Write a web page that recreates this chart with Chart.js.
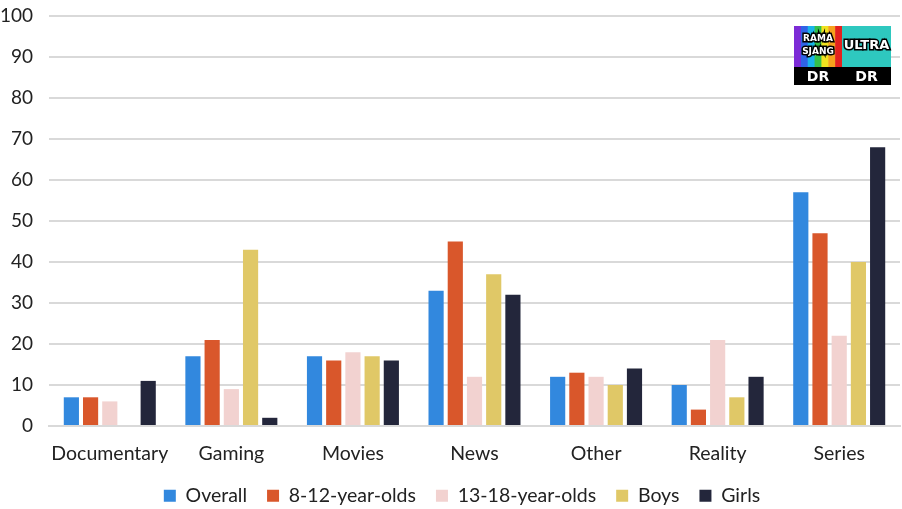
<!DOCTYPE html>
<html>
<head>
<meta charset="utf-8">
<script src="https://cdn.jsdelivr.net/npm/chart.js@4.4.1/dist/chart.umd.min.js"></script>
<style>
  html, body { margin: 0; padding: 0; background: #fff; }
  #wrap { width: 902px; height: 509px; position: relative; }
</style>
</head>
<body>
<div id="wrap"><canvas id="c"></canvas></div>
<script>
// Share of viewers by content type, per audience group
const categories = ['Documentary', 'Gaming', 'Movies', 'News', 'Other', 'Reality', 'Series'];
const overall   = [7, 17, 17, 33, 12, 10, 57];
const age8to12  = [7, 21, 16, 45, 13, 4, 47];
const age13to18 = [6, 9, 18, 12, 12, 21, 22];
const boys      = [0, 43, 17, 37, 10, 7, 40];
const girls     = [11, 2, 16, 32, 14, 12, 68];
const seriesNames = ['Overall', '8-12-year-olds', '13-18-year-olds', 'Boys', 'Girls'];
const yTicks = [0, 10, 20, 30, 40, 50, 60, 70, 80, 90, 100];

const colors = ['#3288de', '#d9572b', '#f2d2d0', '#e0c867', '#23263b'];
const values = [overall, age8to12, age13to18, boys, girls];

const FONT = 'Lato, "Open Sans", sans-serif';

// Broadcaster badges drawn in the top-right corner
const badgePlugin = {
  id: 'badges',
  afterLayout(chart) {
    // nudge the legend row so it sits under the plot a little to the right
    chart.legend.left += 12;
    chart.legend.right += 12;
  },
  afterDraw(chart) {
    const ctx = chart.ctx;
    const x0 = 794, y0 = 26, w = 97, h = 59, band = 18;
    const stripes = ['#7c2bd6', '#2f63e6', '#1ab4ea', '#35c04a', '#f1e21f', '#f6a21d', '#e3211f'];
    const half = 48;
    ctx.save();
    const sw = half / stripes.length;
    stripes.forEach((c, i) => {
      ctx.fillStyle = c;
      ctx.fillRect(x0 + i * sw, y0, sw + 0.5, h - band);
    });
    ctx.fillStyle = '#2ec8bf';
    ctx.fillRect(x0 + half, y0, w - half, h - band);
    ctx.fillStyle = '#000';
    ctx.fillRect(x0, y0 + h - band, w, band);
    ctx.fillStyle = '#fff';
    ctx.textAlign = 'center';
    ctx.textBaseline = 'middle';
    ctx.font = 'bold 14px "DejaVu Sans", sans-serif';
    ctx.fillText('DR', x0 + half / 2, y0 + h - band / 2 + 1);
    ctx.fillText('DR', x0 + half + (w - half) / 2, y0 + h - band / 2 + 1);
    // logo lettering
    ctx.font = 'bold 9px "DejaVu Sans", sans-serif';
    ctx.lineWidth = 3;
    ctx.strokeStyle = '#000';
    ctx.strokeText('RAMA', x0 + half / 2, y0 + 13);
    ctx.fillText('RAMA', x0 + half / 2, y0 + 13);
    ctx.strokeText('SJANG', x0 + half / 2, y0 + 26);
    ctx.fillText('SJANG', x0 + half / 2, y0 + 26);
    ctx.font = 'bold 13px "DejaVu Sans", sans-serif';
    ctx.strokeText('ULTRA', x0 + half + (w - half) / 2, y0 + 20);
    ctx.fillText('ULTRA', x0 + half + (w - half) / 2, y0 + 20);
    ctx.restore();
  }
};

new Chart(document.getElementById('c'), {
  type: 'bar',
  data: {
    labels: categories,
    datasets: seriesNames.map((name, i) => ({
      label: name,
      data: values[i],
      backgroundColor: colors[i],
      borderWidth: 0,
      categoryPercentage: 0.79,
      barPercentage: 0.79
    }))
  },
  options: {
    responsive: true,
    maintainAspectRatio: false,
    animation: false,
    layout: { padding: { left: 0, right: 2, top: 0, bottom: -6.5 } },
    plugins: {
      tooltip: { enabled: false },
      legend: {
        position: 'bottom',
        labels: {
          font: { family: FONT, size: 19.5 },
          color: '#222',
          boxWidth: 12,
          boxHeight: 12,
          padding: 20
        }
      }
    },
    scales: {
      x: {
        grid: { display: false, drawTicks: false },
        border: { color: '#d9d9d9', width: 2 },
        ticks: {
          font: { family: FONT, size: 19.5 },
          color: '#222',
          padding: 16,
          maxRotation: 0,
          autoSkip: false
        },
        afterFit(scale) { scale.height = 40; }
      },
      y: {
        min: 0,
        max: 100,
        afterBuildTicks(scale) { scale.ticks = yTicks.map(v => ({ value: v })); },
        grid: { color: '#d9d9d9', lineWidth: 2, drawTicks: false },
        border: { display: false },
        ticks: {
          font: { family: FONT, size: 19 },
          color: '#222',
          padding: 16
        },
        afterFit(scale) {
          scale.width = 49;
          scale.paddingTop = 16;
          scale.paddingBottom = 12;
        }
      }
    }
  },
  plugins: [badgePlugin]
});
</script>
</body>
</html>
